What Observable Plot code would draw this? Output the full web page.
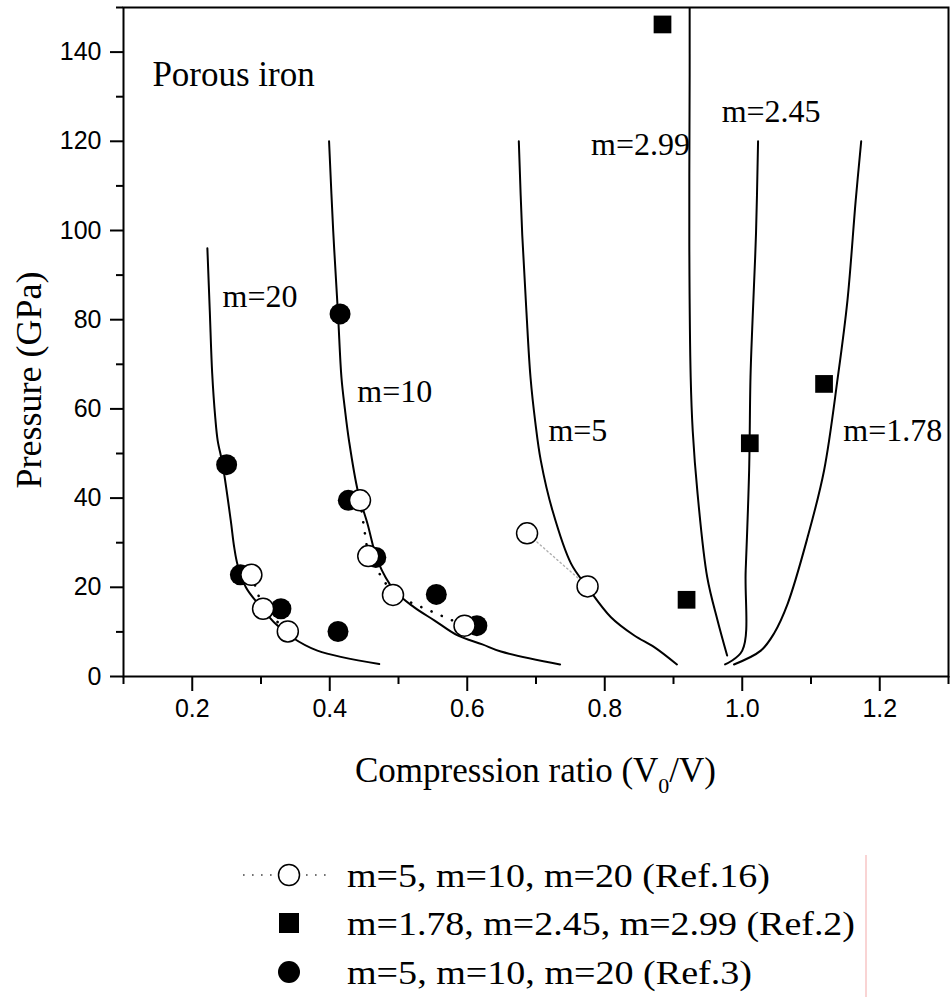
<!DOCTYPE html>
<html><head><meta charset="utf-8">
<script src="https://cdn.jsdelivr.net/npm/d3@7"></script>
<script src="https://cdn.jsdelivr.net/npm/@observablehq/plot@0.6"></script>
<style>
body{margin:0;background:#fff;}
#wrap{position:relative;width:951px;height:997px;background:#fff;}
#wrap svg{display:block;}
g[aria-label="x-axis tick label"], g[aria-label="y-axis tick label"]{font-size:25px;}
</style></head><body><div id="wrap"></div>
<script>
// ---- Model curves (compression ratio, pressure GPa) ----
const m20Curve  = [[0.222,96],[0.2255,82],[0.229,68],[0.2335,58],[0.237,52.9],[0.244,47.7],[0.256,35],[0.261,29],[0.266,25],[0.278,20],[0.292,17],[0.302,15.2],[0.320,12],[0.345,8.8],[0.382,5.8],[0.472,2.8]];
const m10Curve  = [[0.399,120],[0.405,100],[0.412,81.3],[0.417,67.1],[0.422,60],[0.428,52.9],[0.441,41.5],[0.455,34.2],[0.470,25.8],[0.494,19.3],[0.523,15.5],[0.552,12.6],[0.586,9.2],[0.622,7.2],[0.649,5.6],[0.735,2.7]];
const m5Curve   = [[0.675,120],[0.680,99],[0.686,82],[0.692,67.1],[0.699,57],[0.707,48.4],[0.724,37.2],[0.751,25.3],[0.775,20],[0.809,13.3],[0.843,9.2],[0.872,6.6],[0.905,2.7]];
const m299Curve = [[0.9235,150],[0.9235,135],[0.923,97],[0.925,67.1],[0.928,55],[0.935,41],[0.949,22.3],[0.964,12.6],[0.978,4.7]];
const m245Curve = [[1.023,120],[1.020,99.3],[1.015,80],[1.012,67.1],[1.010,46.2],[1.005,23.8],[1.000,5.8],[0.975,2.7]];
const m178Curve = [[1.173,120],[1.165,106.7],[1.153,84.3],[1.139,67.1],[1.119,46.2],[1.095,31.2],[1.066,16.3],[1.046,9.6],[1.027,5.8],[0.988,2.7]];
const curveNames = ["m=20","m=10","m=5","m=2.99","m=2.45","m=1.78"];
const curveLabelX = [0.244, 0.440, 0.718, 0.780, 0.970, 1.147];
const curveLabelY = [85.1, 63.8, 55.0, 119.3, 126.6, 55.0];

// ---- Experimental data ----
const ref16Groups = ["m=20","m=10","m=5"];
const ref16M20 = [[0.286,22.8],[0.303,15.2],[0.339,10.1]];
const ref16M10 = [[0.444,39.5],[0.456,27.0],[0.492,18.3],[0.596,11.4]];
const ref16M5  = [[0.687,32.1],[0.775,20.2]];
const ref3Filled = [[0.250,47.5],[0.270,22.8],[0.329,15.2],[0.412,10.1],[0.415,81.3],[0.427,39.5],[0.467,26.7],[0.555,18.4],[0.614,11.4]];
const ref2Squares = [[0.884,146.2],[0.919,17.2],[1.011,52.3],[1.119,65.6]];

// ---- Text ----
const titleText = "Porous iron";
const titleX = 0.142, titleY = 135.0;
const xLabelMain = "Compression ratio (V", xLabelSub = "0", xLabelEnd = "/V)";
const yLabel = "Pressure (GPa)";
const legendLabels = ["m=5, m=10, m=20 (Ref.16)", "m=1.78, m=2.45, m=2.99 (Ref.2)", "m=5, m=10, m=20 (Ref.3)"];

// ---- Ticks ----
const xMajor = [0.2,0.4,0.6,0.8,1.0,1.2];
const xMinor = [0.1,0.3,0.5,0.7,0.9,1.1,1.3];
const yMajor = [0,20,40,60,80,100,120,140];
const yMinor = [10,30,50,70,90,110,130,150];

// ---- Build tables ----
const curveList = [m20Curve,m10Curve,m5Curve,m299Curve,m245Curve,m178Curve];
const curveRows = curveList.flatMap((pts,i)=>pts.map(([x,y])=>({name:curveNames[i],x,y})));
const labelRows = curveNames.map((t,i)=>({text:t,x:curveLabelX[i],y:curveLabelY[i]}));
const ref16Rows = [ref16M20,ref16M10,ref16M5].flatMap((pts,i)=>pts.map(([x,y])=>({g:ref16Groups[i],x,y})));
const ref3Rows = ref3Filled.map(([x,y])=>({x,y}));
const ref2Rows = ref2Squares.map(([x,y])=>({x,y}));

const W = 951, H = 800;
const serif = "'Liberation Serif','Times New Roman',serif";
const sans = "'Liberation Sans',Arial,sans-serif";

const plot = Plot.plot({
  width: W, height: H,
  marginTop: 7, marginRight: 3, marginBottom: 124, marginLeft: 123,
  x: {domain: [0.1, 1.3]},
  y: {domain: [0, 150]},
  style: {fontFamily: sans, background: "white", color: "black"},
  marks: [
    Plot.line(curveRows, {x:"x", y:"y", z:"name", stroke:"black", strokeWidth:2, curve:"catmull-rom", clip:true}),
    Plot.line(ref16Rows.filter(d=>d.g!=="m=5"), {x:"x", y:"y", z:"g", stroke:"black", strokeWidth:2.6, strokeDasharray:"0.1,11", strokeLinecap:"round"}),
    Plot.line(ref16Rows.filter(d=>d.g==="m=5"), {x:"x", y:"y", z:"g", stroke:"#b0b0b0", strokeWidth:1.4, strokeDasharray:"1.4,3"}),
    Plot.dot(ref3Rows, {x:"x", y:"y", r:10.5, fill:"black", stroke:"none"}),
    Plot.dot(ref16Rows, {x:"x", y:"y", r:10.5, fill:"white", stroke:"black", strokeWidth:1.5}),
    Plot.dot(ref2Rows, {x:"x", y:"y", symbol:"square", r:10, fill:"black", stroke:"none"}),
    Plot.text(labelRows, {x:"x", y:"y", text:"text", textAnchor:"start", fontSize:32, fontFamily:serif, fill:"black"}),
    Plot.text([titleText], {x:()=>titleX, y:()=>titleY, text:d=>d, textAnchor:"start", fontSize:35, fontFamily:serif, fill:"black"}),
    Plot.frame({stroke:"black", strokeWidth:2}),
    Plot.axisX({ticks:xMajor, tickSize:15, tickPadding:8, tickFormat:d3.format(".1f"), fontSize:25, strokeWidth:2, label:null}),
    Plot.axisX({ticks:xMinor, tickSize:8, tickFormat:()=>"", strokeWidth:2, label:null}),
    Plot.axisY({ticks:yMajor, tickSize:13, tickPadding:9, tickFormat:d3.format("d"), fontSize:25, strokeWidth:2, label:null}),
    Plot.axisY({ticks:yMinor, tickSize:7, tickFormat:()=>"", strokeWidth:2, label:null})
  ]
});

const wrap = document.getElementById("wrap");
wrap.appendChild(plot);

// axis titles
const xs = plot.scale("x").range, ys = plot.scale("y").range;
const svg = d3.select(plot);
const xt = svg.append("text")
  .attr("x", (xs[0]+xs[1])/2).attr("y", ys[0] + 106)
  .attr("text-anchor","middle").attr("font-family",serif).attr("font-size",35).attr("fill","black");
xt.append("tspan").text(xLabelMain);
xt.append("tspan").attr("dy",11).attr("font-size",22).text(xLabelSub);
xt.append("tspan").attr("dy",-11).text(xLabelEnd);
svg.append("text")
  .attr("transform", `translate(${xs[0]-82},${ys[1]+373}) rotate(-90)`)
  .attr("text-anchor","middle").attr("font-family",serif).attr("font-size",36).attr("fill","black")
  .text(yLabel);

// legend below the plot
const leg = d3.select(wrap).append("svg").attr("width", W).attr("height", 997 - H);
const rowY = [75, 123, 172];
const symX = 289;
leg.append("line").attr("x1",243).attr("x2",327).attr("y1",rowY[0]).attr("y2",rowY[0])
  .attr("stroke","#444").attr("stroke-width",1.6).attr("stroke-dasharray","1.6,7.4");
leg.append("circle").attr("cx",symX).attr("cy",rowY[0]).attr("r",10.5).attr("fill","white").attr("stroke","black").attr("stroke-width",1.5);
leg.append("rect").attr("x",symX-10).attr("y",rowY[1]-10).attr("width",20).attr("height",20).attr("fill","black");
leg.append("circle").attr("cx",symX).attr("cy",rowY[2]).attr("r",11).attr("fill","black");
const legLen = [423, 508, 405];
legendLabels.forEach((t,i)=>{
  leg.append("text").attr("x",347).attr("y",rowY[i]+11.5)
    .attr("font-family",serif).attr("font-size",34).attr("fill","black")
    .attr("textLength",legLen[i]).attr("lengthAdjust","spacingAndGlyphs").text(t);
});
leg.append("line").attr("x1",866).attr("x2",866).attr("y1",55).attr("y2",197)
  .attr("stroke","#f3a9a9").attr("stroke-width",1);
</script></body></html>
